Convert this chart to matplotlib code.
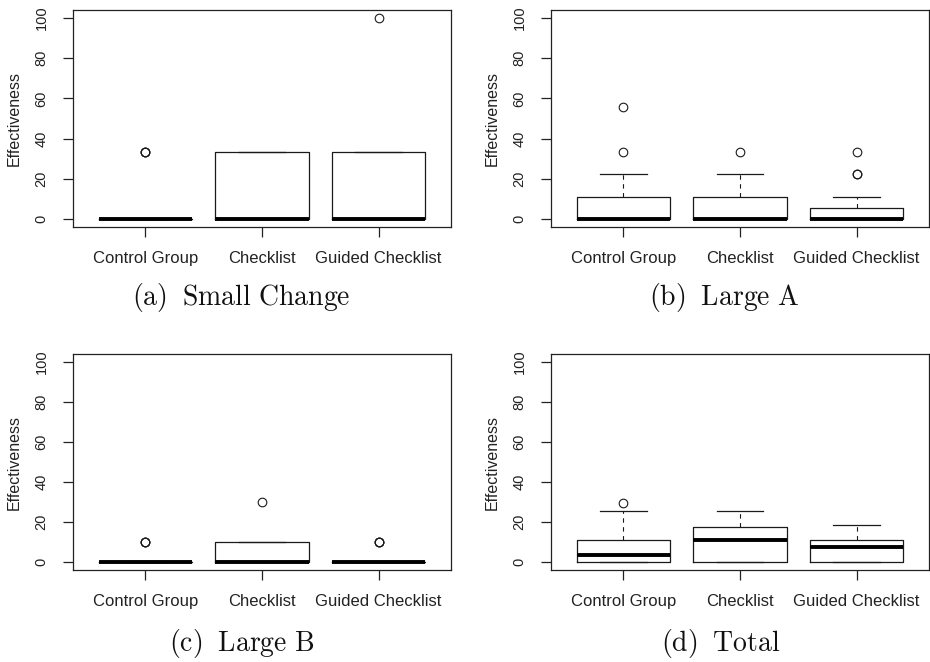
import matplotlib
matplotlib.use("Agg")
import matplotlib.pyplot as plt

plt.rcParams['font.family'] = ['Liberation Sans', 'DejaVu Sans']
plt.rcParams['mathtext.fontset'] = 'cm'

groups = ['Control Group', 'Checklist', 'Guided Checklist']
captions = ['(a)', '(b)', '(c)', '(d)']
titles = ['Small Change', 'Large A', 'Large B', 'Total']
yticks = [0, 20, 40, 60, 80, 100]

# Small Change
small_q1 = [0, 0, 0]
small_med = [0, 0, 0]
small_q3 = [0, 33.3, 33.3]
small_whislo = [0, 0, 0]
small_whishi = [0, 33.3, 33.3]
small_fliers = [[33.3, 33.3, 33.3], [], [100]]

# Large A
largeA_q1 = [0, 0, 0]
largeA_med = [0, 0, 0]
largeA_q3 = [11.1, 11.1, 5.6]
largeA_whislo = [0, 0, 0]
largeA_whishi = [22.2, 22.2, 11.1]
largeA_fliers = [[33.3, 55.6], [33.3], [22.2, 22.2, 33.3]]

# Large B
largeB_q1 = [0, 0, 0]
largeB_med = [0, 0, 0]
largeB_q3 = [0, 10, 0]
largeB_whislo = [0, 0, 0]
largeB_whishi = [0, 10, 0]
largeB_fliers = [[10, 10, 10], [30], [10, 10, 10]]

# Total
total_q1 = [0, 0, 0]
total_med = [3.7, 11.1, 7.4]
total_q3 = [11.1, 17.6, 11.1]
total_whislo = [0, 0, 0]
total_whishi = [25.4, 25.4, 18.5]
total_fliers = [[29.6], [], []]

panels = [
    (small_q1, small_med, small_q3, small_whislo, small_whishi, small_fliers),
    (largeA_q1, largeA_med, largeA_q3, largeA_whislo, largeA_whishi, largeA_fliers),
    (largeB_q1, largeB_med, largeB_q3, largeB_whislo, largeB_whishi, largeB_fliers),
    (total_q1, total_med, total_q3, total_whislo, total_whishi, total_fliers),
]

W, H = 930, 662
fig = plt.figure(figsize=(W / 100, H / 100), dpi=100)

# pixel boxes: left, right, top, bottom
boxes = [(73, 451, 10, 227), (551, 929, 10, 227),
         (73, 451, 354, 570), (551, 929, 354, 570)]
cap_pos = [(241, 298), (724, 298), (242, 643), (721, 643)]

ink = '#1a1a1a'
for i, (q1, med, q3, wlo, whi, fl) in enumerate(panels):
    l, r, t, b = boxes[i]
    ax = fig.add_axes([l / W, 1 - b / H, (r - l) / W, (b - t) / H])
    stats = []
    for j, g in enumerate(groups):
        stats.append(dict(label=g, q1=q1[j], med=med[j], q3=q3[j],
                          whislo=wlo[j], whishi=whi[j], fliers=fl[j]))
    ax.bxp(stats, positions=[1, 2, 3], widths=0.8, capwidths=0.4,
           showfliers=True, patch_artist=False,
           boxprops=dict(color=ink, linewidth=0.9),
           medianprops=dict(color='black', linewidth=2.8, solid_capstyle='butt'),
           whiskerprops=dict(color=ink, linewidth=0.8, linestyle=(0, (4, 4))),
           capprops=dict(color=ink, linewidth=0.9),
           flierprops=dict(marker='o', markersize=6.2, markerfacecolor='none',
                           markeredgecolor=ink, markeredgewidth=0.8))
    ax.set_xlim(0.38, 3.62)
    ax.set_ylim(-4, 104)
    ax.set_yticks(yticks)
    ax.set_yticklabels([str(v) for v in yticks])
    ax.set_xticks([1, 2, 3])
    ax.set_xticklabels(groups)
    for s in ax.spines.values():
        s.set_color('#222222')
        s.set_linewidth(0.9)
    ax.tick_params(axis='y', direction='out', length=7.5, width=0.9, color='#222222',
                   labelsize=10.5, pad=10, labelrotation=90, labelcolor='#222222')
    ax.tick_params(axis='x', direction='out', length=7.5, width=0.9, color='#222222',
                   labelsize=12, pad=10, labelcolor='#222222')
    for lbl in ax.get_yticklabels():
        lbl.set_va('center')
    ax.set_ylabel('Effectiveness', fontsize=11.5, color='#222222', va='center', ha='center')
    ax.yaxis.set_label_coords(-59 / (r - l), 0.5)
    cx, cy = cap_pos[i]
    fig.text(cx / W, 1 - cy / H,
             r'$\mathrm{' + captions[i] + r'\ \;' + titles[i].replace(' ', r'\ ') + '}$',
             fontsize=20, ha='center', va='center', color='#111111')

fig.savefig('out.png', dpi=100)
